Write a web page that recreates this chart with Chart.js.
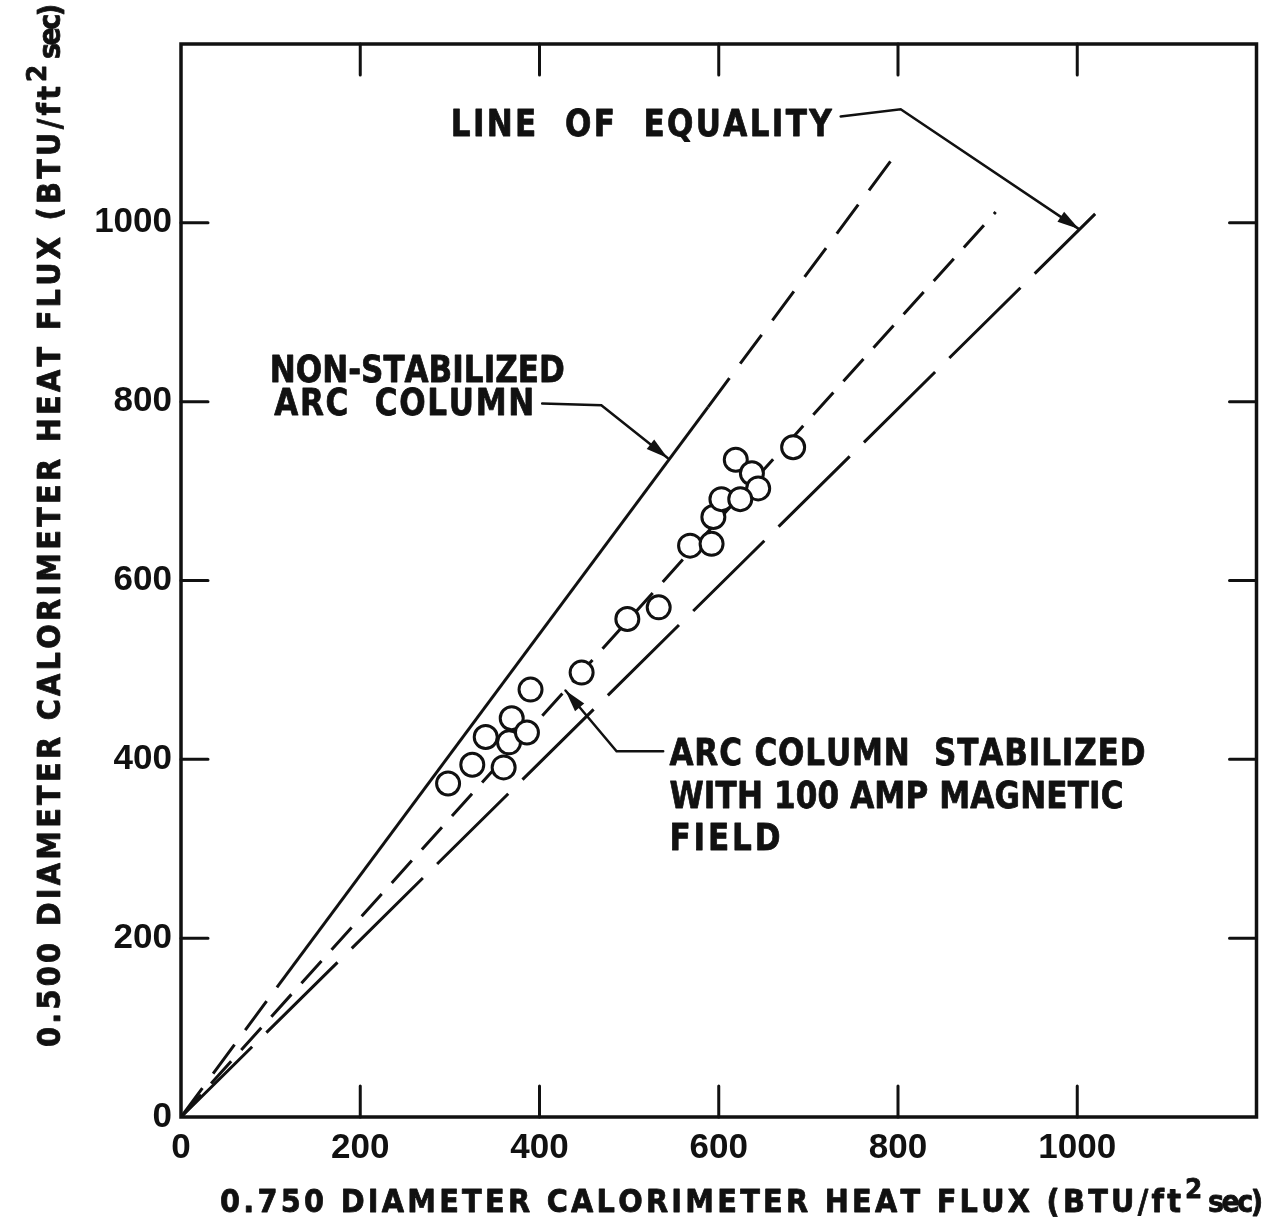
<!DOCTYPE html>
<html>
<head>
<meta charset="utf-8">
<script src="https://cdn.jsdelivr.net/npm/chart.js@4.4.0/dist/chart.umd.min.js"></script>
<style>
  html, body { margin: 0; padding: 0; background: #fff; }
  #wrap { width: 1271px; height: 1223px; }
</style>
</head>
<body>
<div id="wrap"><canvas id="chart" width="1271" height="1223"></canvas></div>
<script>
// tick values shared by both axes
const tickValues = [0, 200, 400, 600, 800, 1000];

// measured points: 0.750 calorimeter (x) vs 0.500 calorimeter (y)
const calX = [298, 325, 340, 360, 369, 366, 386, 390, 447, 498, 533, 568, 592, 594, 603, 619, 637, 644, 624, 683];
const calY = [373, 394, 425, 391, 446, 419, 430, 478, 497, 557, 570, 639, 641, 671, 691, 735, 720, 703, 691, 749];

// reference lines
const equalityX = [0, 1020];
const equalityY = [0, 1010];
const stabilizedX = [0, 909];
const stabilizedY = [0, 1012];
const nonStabX = [0, 107, 588, 794];   // dashed, solid, dashed
const nonStabY = [0, 145, 794, 1072];

const INK = '#111';
const LETTER = 'DejaVu Sans';

function pts(xs, ys) {
    return xs.map((x, i) => ({ x: x, y: ys[i] }));
}

// labels and leader arrows, anchored in data units
const notes = [
    { text: 'LINE  OF  EQUALITY', x: 301, y: 1097, width: 381 },
    { text: 'NON-STABILIZED', x: 99, y: 822, width: 295 },
    { text: 'ARC  COLUMN', x: 104, y: 785, width: 260 },
    { text: 'ARC COLUMN  STABILIZED', x: 545, y: 394, width: 476 },
    { text: 'WITH 100 AMP MAGNETIC', x: 545, y: 346, width: 454 },
    { text: 'FIELD', x: 545, y: 299, width: 111 }
];
const leaders = [
    [[736, 1119], [803, 1127], [1002, 993]],
    [[403, 798], [469, 796], [543, 737]],
    [[538, 409], [486, 409], [429, 477]]
];

// draw text condensed horizontally and spread to an exact width
function spreadText(ctx, text, x, y, width, size, squeeze) {
    ctx.save();
    ctx.translate(x, y);
    ctx.scale(squeeze, 1);
    ctx.font = 'bold ' + size + 'px "' + LETTER + '"';
    ctx.textAlign = 'left';
    ctx.textBaseline = 'alphabetic';
    ctx.lineWidth = 0.8;
    ctx.lineJoin = 'round';
    const chars = [...text];
    const widths = chars.map(c => ctx.measureText(c).width);
    const natural = widths.reduce((a, b) => a + b, 0);
    const gap = chars.length > 1 ? (width / squeeze - natural) / (chars.length - 1) : 0;
    let cx = 0;
    chars.forEach((c, i) => {
        ctx.fillText(c, cx, 0);
        ctx.strokeText(c, cx, 0);
        cx += widths[i] + gap;
    });
    ctx.restore();
}

// axis title with the ft^2 superscript
function axisTitle(ctx, label) {
    spreadText(ctx, label + ' (BTU/ft', 0, 0, 961, 32, 0.9);
    spreadText(ctx, '2', 965, -14, 16, 26, 0.95);
    spreadText(ctx, 'sec)', 988, 0, 55, 30, 0.9);
}

function arrow(ctx, points) {
    ctx.beginPath();
    points.forEach((p, i) => i ? ctx.lineTo(p[0], p[1]) : ctx.moveTo(p[0], p[1]));
    ctx.stroke();
    const [a, b] = points.slice(-2);
    const ang = Math.atan2(b[1] - a[1], b[0] - a[0]);
    const len = 22, half = 6;
    ctx.beginPath();
    ctx.moveTo(b[0], b[1]);
    ctx.lineTo(b[0] - len * Math.cos(ang) + half * Math.sin(ang), b[1] - len * Math.sin(ang) - half * Math.cos(ang));
    ctx.lineTo(b[0] - len * Math.cos(ang) - half * Math.sin(ang), b[1] - len * Math.sin(ang) + half * Math.cos(ang));
    ctx.closePath();
    ctx.fill();
}

const decorations = {
    id: 'decorations',
    afterDraw(chart) {
        const ctx = chart.ctx;
        const { left, right, top, bottom } = chart.chartArea;
        const sx = chart.scales.x, sy = chart.scales.y;
        ctx.save();
        ctx.strokeStyle = INK;
        ctx.fillStyle = INK;
        ctx.lineCap = 'round';

        // frame
        ctx.lineWidth = 3.5;
        ctx.strokeRect(left, top, right - left, bottom - top);

        // inward tick marks on all four sides
        ctx.lineWidth = 3;
        tickValues.filter(v => v > 0).forEach(v => {
            const px = sx.getPixelForValue(v);
            const py = sy.getPixelForValue(v);
            ctx.beginPath();
            ctx.moveTo(px, bottom); ctx.lineTo(px, bottom - 31);
            ctx.moveTo(px, top); ctx.lineTo(px, top + 31);
            ctx.moveTo(left, py); ctx.lineTo(left + 27, py);
            ctx.moveTo(right, py); ctx.lineTo(right - 27, py);
            ctx.stroke();
        });

        // leader arrows
        ctx.lineWidth = 2.5;
        leaders.forEach(l => arrow(ctx, l.map(p => [sx.getPixelForValue(p[0]), sy.getPixelForValue(p[1])])));

        // annotation text
        notes.forEach(n => spreadText(ctx, n.text, sx.getPixelForValue(n.x), sy.getPixelForValue(n.y), n.width, 37, 0.84));

        // axis titles
        ctx.save();
        ctx.translate(220, 1212);
        axisTitle(ctx, '0.750 DIAMETER CALORIMETER HEAT FLUX');
        ctx.restore();
        ctx.save();
        ctx.translate(60, 1047);
        ctx.rotate(-Math.PI / 2);
        axisTitle(ctx, '0.500 DIAMETER CALORIMETER HEAT FLUX');
        ctx.restore();

        ctx.restore();
    }
};

const tickFont = { family: 'Liberation Sans', weight: 'bold', size: 35 };

function axis(fit) {
    return {
        type: 'linear',
        min: 0,
        max: 1200,
        afterFit: fit,
        grid: { display: false, drawTicks: false },
        border: { display: false },
        ticks: {
            stepSize: 200,
            autoSkip: false,
            maxRotation: 0,
            color: INK,
            font: tickFont,
            callback: v => tickValues.includes(v) ? String(v) : ''
        }
    };
}

const xAxis = axis(s => { s.height = 106; });
xAxis.ticks.padding = 10;
const yAxis = axis(s => { s.width = 181; });
yAxis.ticks.padding = 9;

new Chart(document.getElementById('chart'), {
    type: 'scatter',
    data: {
        datasets: [
            {
                label: 'Line of equality',
                type: 'line',
                data: pts(equalityX, equalityY),
                borderColor: INK,
                borderWidth: 3,
                borderDash: [100, 20],
                pointRadius: 0,
                fill: false,
                order: 2
            },
            {
                label: 'Stabilized, 100 amp magnetic field',
                type: 'line',
                data: pts(stabilizedX, stabilizedY),
                borderColor: INK,
                borderWidth: 3,
                borderDash: [30, 15],
                pointRadius: 0,
                fill: false,
                order: 2
            },
            {
                label: 'Non-stabilized arc column',
                type: 'line',
                data: pts(nonStabX, nonStabY),
                borderColor: INK,
                borderWidth: 3,
                pointRadius: 0,
                fill: false,
                segment: {
                    borderDash: c => c.p0DataIndex === 1 ? [] : [36, 18]
                },
                order: 2
            },
            {
                label: 'Heat flux',
                data: pts(calX, calY),
                pointRadius: 11.5,
                pointHoverRadius: 11.5,
                borderWidth: 3,
                borderColor: INK,
                backgroundColor: '#fff',
                order: 0
            }
        ]
    },
    options: {
        responsive: false,
        animation: false,
        devicePixelRatio: 1,
        layout: { padding: { top: 44, right: 11, left: 0, bottom: 0 } },
        plugins: {
            legend: { display: false },
            tooltip: { enabled: false }
        },
        scales: { x: xAxis, y: yAxis }
    },
    plugins: [decorations]
});
</script>
</body>
</html>
